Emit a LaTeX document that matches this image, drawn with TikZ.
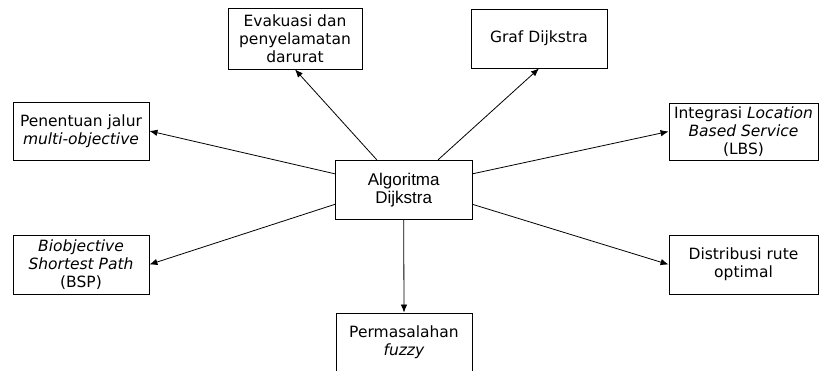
\documentclass[tikz,border=0pt]{standalone}
\usepackage{fontspec}
\setmainfont{DejaVu Sans}
\newfontfamily\arialfont{Liberation Sans}
\usetikzlibrary{arrows.meta}

\begin{document}
\begin{tikzpicture}[x=1pt, y=-1pt,
    box/.style={draw, line width=0.9pt, minimum width=136pt, minimum height=59pt,
        align=center, inner sep=2pt, font=\fontsize{15.5}{18}\selectfont},
    arrow/.style={-{Latex[length=8pt,width=6.5pt]}, line width=0.8pt}]
    \useasboundingbox (0,0) rectangle (819,371);

    % Center node
    \node[box, minimum width=136.5pt, font=\arialfont\fontsize{17}{18}\selectfont] (alg) at (403.7,189.7) {Algoritma\\Dijkstra};

    % Upper nodes
    \node[box, minimum width=134pt, minimum height=61pt] (eva) at (295,38.5) {Evakuasi dan\\penyelamatan\\darurat};
    \node[box] (graf) at (539,38.5) {Graf Dijkstra};

    % Side nodes
    \node[box, minimum height=58pt] (pen) at (81,131) {Penentuan jalur\\\textit{multi-objective}};
    \node[box, minimum width=149pt, minimum height=57pt] (int) at (743.5,131.5) {Integrasi \textit{Location}\\\textit{Based Service}\\(LBS)};
    \node[box] (bio) at (81,264.5) {\textit{Biobjective}\\\textit{Shortest Path}\\(BSP)};
    \node[box, minimum width=149pt] (dis) at (743.5,264.5) {Distribusi rute\\optimal};

    % Lower node
    \node[box] (per) at (404,342.5) {Permasalahan\\\textit{fuzzy}};

    % Edges
    \draw[arrow] (alg.132) -- (eva.south);
    \draw[arrow] (alg.41.7) -- (graf.south);
    \draw[arrow] (alg.167.8) -- (pen.east);
    \draw[arrow] (alg.13.7) -- (int.west);
    \draw[arrow] (alg.192.6) -- (bio.east);
    \draw[arrow] (alg.348.2) -- (dis.west);
    \draw[arrow] (alg.south) -- (per.north);
\end{tikzpicture}
\end{document}
